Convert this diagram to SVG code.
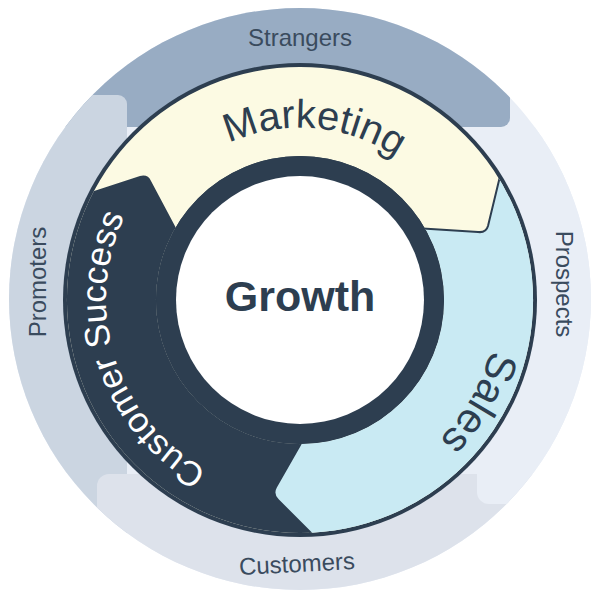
<svg xmlns="http://www.w3.org/2000/svg" width="602" height="602" viewBox="0 0 602 602">
<style>
.zone{font-family:"Liberation Sans",Arial,sans-serif;font-size:24px;fill:#3a4b5e}
.seg{font-family:"Liberation Sans",Arial,sans-serif;font-size:40px;fill:#2d3e50}
</style>
<defs>
<clipPath id="outer"><circle cx="300" cy="299" r="291"/></clipPath>
<clipPath id="band"><path clip-rule="evenodd" d="M300 67a233 233 0 1 1 0 466a233 233 0 1 1 0-466zM300 156a144 144 0 1 0 0 288a144 144 0 1 0 0-288z"/></clipPath>
<path id="pm" d="M128 291A172 172 0 0 1 472 309"/>
<path id="ps" d="M398 129A196 196 0 0 1 202 471"/>
<path id="pc" d="M360 484A193 193 0 0 1 240 115"/>
</defs>
<g id="zones" clip-path="url(#outer)">
<rect x="0" y="0" width="602" height="602" fill="#e9eef6"/>
<rect id="strangers" x="-20" y="-20" width="530" height="147" rx="9" fill="#98acc3"/>
<rect id="promoters" x="-20" y="95" width="147" height="600" rx="9" fill="#cbd5e1"/>
<rect id="customers" x="97" y="474" width="600" height="200" rx="12" fill="#dde2eb"/>
<rect id="prospects" x="477" y="127" width="200" height="377" rx="12" fill="#e9eef6"/>
</g>
<circle cx="300" cy="300" r="237" fill="#2d3e50"/>
<g id="segments" clip-path="url(#band)">
<g id="marketing"><rect x="0" y="0" width="602" height="602" fill="#fcfae3"/></g>
<g id="sales"><path d="M415 228L478 232Q486 233 488 226L502 168L660 100L660 660L330 660L318 540L278 500Q272 494 276 487L300 445Z" fill="#c9eaf3" stroke="#2d3e50" stroke-width="2"/></g>
<g id="customer-success"><path d="M300 445L276 487Q272 494 278 500L318 540L300 660L-60 660L-60 150L88 193L140 176Q148 174 151 181L176 228Z" fill="#2d3e50"/></g>
</g>
<circle cx="300" cy="300" r="144" fill="#2d3e50"/>
<circle cx="300" cy="300" r="124" fill="#ffffff"/>
<g id="growth"><text x="300" y="311" text-anchor="middle" font-family="Liberation Sans,Arial,sans-serif" font-weight="bold" font-size="43" fill="#2d3e50">Growth</text></g>
<text class="seg"><textPath href="#pm" startOffset="51%" text-anchor="middle">Marketing</textPath></text>
<text class="seg" style="font-size:42px"><textPath href="#ps" startOffset="50%" text-anchor="middle">Sales</textPath></text>
<text class="seg" style="fill:#ffffff;font-size:35px"><textPath href="#pc" startOffset="50%" text-anchor="middle">Customer Success</textPath></text>
<text class="zone" x="300" y="46" text-anchor="middle">Strangers</text>
<text class="zone" x="297" y="572" text-anchor="middle" transform="rotate(-3 297 565)">Customers</text>
<text class="zone" transform="translate(46 282) rotate(-90)" text-anchor="middle">Promoters</text>
<text class="zone" transform="translate(556 284) rotate(90)" text-anchor="middle">Prospects</text>
</svg>
